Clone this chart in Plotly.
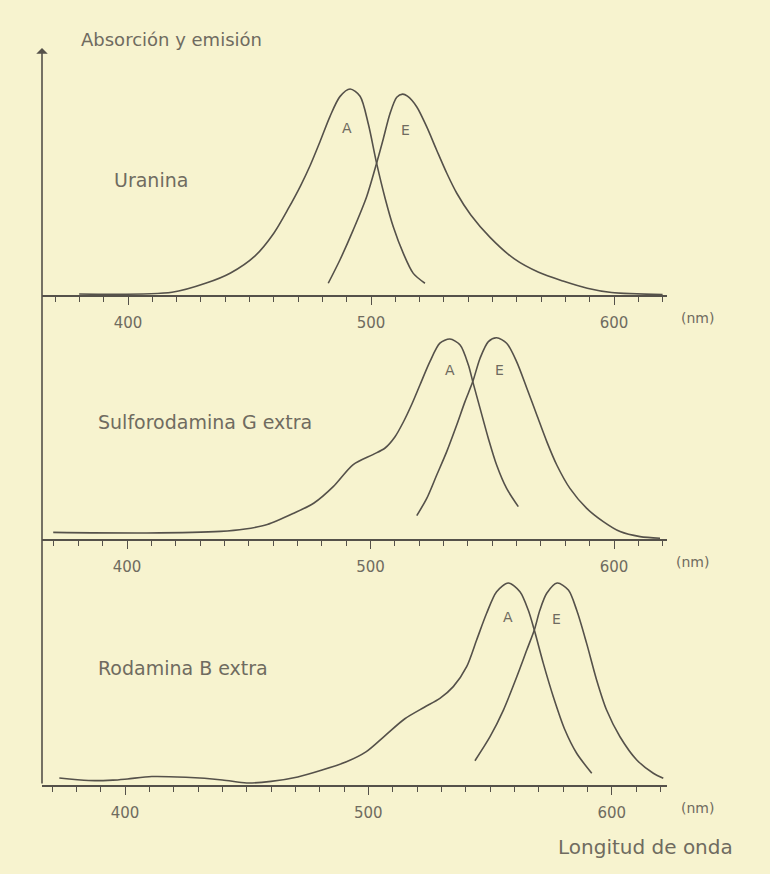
import plotly.graph_objects as go

W, H = 770, 874

# ---------------- data (wavelength nm, relative intensity) ----------------
uranina_abs_x = [379.9, 418.1, 432.2, 442.2, 452.3, 460.0, 466.0, 471.0, 475.0, 479.0,
                 483.1, 487.2, 491.4, 495.5, 498.9, 502.3, 505.8, 509.2, 513.3, 517.4, 522.2]
uranina_abs_y = [0.005, 0.013, 0.058, 0.107, 0.190, 0.300, 0.420, 0.530, 0.630, 0.744,
                 0.866, 0.963, 1.0, 0.965, 0.830, 0.640, 0.470, 0.330, 0.202, 0.105, 0.057]
uranina_em_x = [482.4, 487.2, 492.7, 498.2, 502.3, 505.1, 507.8, 510.6, 513.0, 515.0,
                518.8, 522.9, 527.0, 531.2, 535.3, 541.0, 549.0, 559.0, 569.0, 579.0,
                589.0, 599.0, 620.0]
uranina_em_y = [0.057, 0.170, 0.316, 0.477, 0.640, 0.760, 0.880, 0.960, 0.975, 0.965,
                0.914, 0.817, 0.704, 0.591, 0.494, 0.390, 0.280, 0.175, 0.110, 0.068,
                0.033, 0.012, 0.002]

sulfo_abs_x = [369.7, 408.1, 438.4, 448.5, 457.6, 468.7, 476.8, 484.8, 492.9, 501.0,
               506.0, 510.0, 513.5, 517.0, 520.3, 524.4, 528.5, 532.6, 536.8, 540.2, 542.0,
               545.0, 548.4, 551.8, 555.9, 560.7]
sulfo_abs_y = [0.033, 0.030, 0.038, 0.050, 0.072, 0.130, 0.180, 0.263, 0.372, 0.422,
               0.455, 0.510, 0.585, 0.675, 0.770, 0.887, 0.979, 1.0, 0.970, 0.870, 0.787,
               0.653, 0.503, 0.370, 0.253, 0.162]
sulfo_em_x = [519.0, 523.1, 527.2, 531.3, 535.4, 538.8, 542.0, 545.0, 548.4, 551.8,
              555.9, 560.0, 564.2, 568.3, 572.4, 576.5, 581.9, 588.8, 595.6, 602.5,
              610.7, 618.9]
sulfo_em_y = [0.117, 0.203, 0.320, 0.437, 0.570, 0.687, 0.787, 0.904, 0.987, 1.006,
              0.979, 0.887, 0.754, 0.620, 0.487, 0.370, 0.253, 0.153, 0.087, 0.037,
              0.012, 0.004]

rodam_abs_x = [373.0, 385.0, 395.0, 401.0, 411.0, 425.0, 440.0, 450.0, 460.0, 471.0,
               481.0, 491.0, 499.0, 507.0, 515.0, 523.0, 529.4, 534.9, 540.4, 544.5,
               548.6, 552.7, 557.5, 562.3, 565.7, 568.2, 571.9, 576.0, 580.8, 585.6, 591.8]
rodam_abs_y = [0.035, 0.022, 0.024, 0.030, 0.042, 0.038, 0.025, 0.010, 0.018, 0.040,
               0.074, 0.115, 0.164, 0.246, 0.328, 0.385, 0.429, 0.487, 0.586, 0.718,
               0.850, 0.957, 1.0, 0.957, 0.866, 0.767, 0.602, 0.437, 0.272, 0.157, 0.058]
rodam_em_x = [543.8, 550.0, 555.5, 561.0, 565.1, 568.2, 570.5, 573.3, 577.6, 582.2,
              585.6, 589.7, 593.8, 597.9, 603.4, 610.3, 617.1, 621.2]
rodam_em_y = [0.120, 0.239, 0.371, 0.536, 0.668, 0.767, 0.866, 0.949, 1.0, 0.965,
              0.866, 0.701, 0.520, 0.371, 0.239, 0.124, 0.058, 0.033]

dye_names = ["Uranina", "Sulforodamina G extra", "Rodamina B extra"]
tick_values = [400, 500, 600]
tick_labels = ["400", "500", "600"]
y_title = "Absorción y emisión"
x_title = "Longitud de onda"
unit_label = "(nm)"

# ---------------- style / layout ----------------
BG = "#f7f3cf"
INK = "#55514a"
TXT = "#6f6b60"
FONT = "DejaVu Sans"

# panel geometry in pixels
panels = [
    dict(yb=295, h=206, p400=128, p600=614, nm_x=697),
    dict(yb=539, h=200, p400=127, p600=614, nm_x=692),
    dict(yb=785, h=202, p400=125, p600=611.7, nm_x=697),
]
XL, XR = 42, 667
YTOP = 1.12

series = [
    (uranina_abs_x, uranina_abs_y, uranina_em_x, uranina_em_y),
    (sulfo_abs_x, sulfo_abs_y, sulfo_em_x, sulfo_em_y),
    (rodam_abs_x, rodam_abs_y, rodam_em_x, rodam_em_y),
]
ae_pos = [((490.0, 0.81), (514.0, 0.80)),
          ((532.6, 0.845), (552.8, 0.845)),
          ((557.5, 0.833), (577.4, 0.82))]
name_pos = [(112, 180), (96, 422), (96, 668)]

fig = go.Figure()
layout = dict(
    width=W, height=H, margin=dict(l=0, r=0, t=0, b=0),
    paper_bgcolor=BG, plot_bgcolor=BG, showlegend=False,
    font=dict(family=FONT, color=TXT),
)
annotations = []

for i, (pn, (ax_, ay_, ex_, ey_)) in enumerate(zip(panels, series)):
    n = i + 1
    xa = "x" if n == 1 else f"x{n}"
    ya = "y" if n == 1 else f"y{n}"
    s = (pn["p600"] - pn["p400"]) / 200.0
    xr = [400 + (XL - pn["p400"]) / s, 400 + (XR - pn["p400"]) / s]
    ytop_px = pn["yb"] - YTOP * pn["h"]
    dom_y = [1 - pn["yb"] / H, 1 - ytop_px / H]

    for xs, ys in ((ax_, ay_), (ex_, ey_)):
        fig.add_trace(go.Scatter(x=xs, y=ys, mode="lines", xaxis=xa, yaxis=ya,
                                 line=dict(color=INK, width=1.6, shape="spline", smoothing=0.8),
                                 hoverinfo="skip"))

    layout["xaxis" if n == 1 else f"xaxis{n}"] = dict(
        domain=[XL / W, XR / W], range=xr, anchor=ya,
        showline=True, linecolor=INK, linewidth=1.6,
        showgrid=False, zeroline=False,
        tickmode="array", tickvals=tick_values, ticktext=tick_labels,
        ticks="outside", ticklen=8, tickwidth=1.2, tickcolor=INK,
        ticklabelstandoff=5,
        tickfont=dict(family=FONT, size=15, color=TXT),
        minor=dict(dtick=10, tick0=0, ticks="outside", ticklen=5, tickwidth=1.1, tickcolor=INK),
    )
    layout["yaxis" if n == 1 else f"yaxis{n}"] = dict(
        domain=dom_y, range=[0, YTOP], anchor=xa,
        visible=False, showgrid=False, zeroline=False,
    )

    for (xv, yv), lab in zip(ae_pos[i], ["A", "E"]):
        annotations.append(dict(x=xv, y=yv, xref=xa, yref=ya, text=lab, showarrow=False,
                                font=dict(family=FONT, size=14, color=TXT)))
    nx, ny = name_pos[i]
    annotations.append(dict(x=nx / W, y=1 - ny / H, xref="paper", yref="paper",
                            text=dye_names[i], showarrow=False, xanchor="left", yanchor="middle",
                            font=dict(family=FONT, size=19, color=TXT)))
    annotations.append(dict(x=pn["nm_x"] / W, y=1 - (pn["yb"] + 23) / H, xref="paper", yref="paper",
                            text=unit_label, showarrow=False, xanchor="center", yanchor="middle",
                            font=dict(family=FONT, size=14, color=TXT)))

# vertical axis with arrow
annotations.append(dict(x=XL / W, y=1 - 48 / H, xref="paper", yref="paper", text="",
                        showarrow=True, ax=0, ay=785 - 48, arrowhead=1, arrowsize=1.2,
                        arrowwidth=1.6, arrowcolor=INK, standoff=0, startstandoff=0))
annotations.append(dict(x=79 / W, y=1 - 39 / H, xref="paper", yref="paper", text=y_title,
                        showarrow=False, xanchor="left", yanchor="middle",
                        font=dict(family=FONT, size=18, color=TXT)))
annotations.append(dict(x=556 / W, y=1 - 847 / H, xref="paper", yref="paper", text=x_title,
                        showarrow=False, xanchor="left", yanchor="middle",
                        font=dict(family=FONT, size=20, color=TXT)))

layout["annotations"] = annotations
fig.update_layout(**layout)
fig.write_html("out.html")
